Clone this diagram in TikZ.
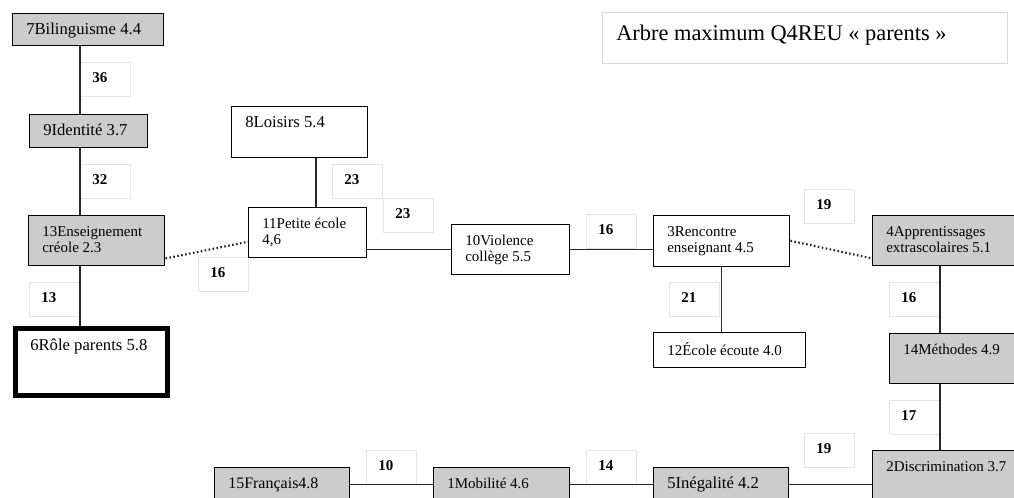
\documentclass[tikz,border=0pt]{standalone}
\usepackage{fontspec}
\setmainfont{Liberation Serif}
\usetikzlibrary{calc}
\definecolor{boxgray}{RGB}{204,204,204}
\definecolor{lablin}{RGB}{228,228,228}
\definecolor{titlin}{RGB}{215,215,215}
\tikzset{
  boxbase/.style={draw=black, line width=1.1pt, inner sep=0pt, anchor=north west},
  graybox/.style={boxbase, fill=boxgray},
  whitebox/.style={boxbase, fill=white},
  thickbox/.style={draw=black, line width=3.75pt, fill=white, inner sep=0pt, anchor=north west},
  labbox/.style={draw=lablin, line width=0.6pt, fill=white, inner sep=0pt, anchor=north west,
     minimum width=37.5pt, minimum height=25.5pt},
  txt/.style={inner sep=0pt, anchor=north west, align=left, font=\fontsize{11.25}{12}\selectfont},
  labtxt/.style={inner sep=0pt, anchor=north west, font=\fontsize{11.25}{12}\selectfont\bfseries},
  conn/.style={draw=black!85, line width=1.1pt},
  dotconn/.style={draw=black!85, line width=1.6pt, dash pattern=on 1.2pt off 1.8pt},
}
\newcommand\bigtxt{\fontsize{12.5}{12}\selectfont}
\newcommand\bxnode[7]{%
  \node[#2, minimum width=#5*0.75pt, minimum height=#6*0.75pt] (#1) at (#3,#4) {};
  \node[txt] at ($(#1.north west)+(14,10)$) {\strut #7};
}
\newcommand\lbnode[4]{%
  \node[labbox] (#1) at (#2,#3) {};
  \node[labtxt] at ($(#1.north west)+(12,9)$) {\strut #4};
}
\begin{document}
\begin{tikzpicture}[x=0.75pt,y=-0.75pt]
\useasboundingbox (0,0) rectangle (1014,497);
\clip (0,0) rectangle (1014,497);
\fill[white] (0,0) rectangle (1014,497);
% title
\node[draw=titlin, line width=0.6pt, fill=white, inner sep=0pt, anchor=north west,
  minimum width=405*0.75pt, minimum height=51*0.75pt] (title) at (602,12) {};
\node[inner sep=0pt, anchor=base west, font=\fontsize{16.8}{18}\selectfont] at ($(title.north west)+(14,28)$) {Arbre maximum Q4REU « parents »};
% labels
\lbnode{l36}{80}{62}{36}
\lbnode{l32}{80}{164}{32}
\lbnode{l13}{29}{282}{13}
\lbnode{l16a}{198}{257}{16}
\lbnode{l23a}{332}{164}{23}
\lbnode{l23b}{383}{198}{23}
\lbnode{l16b}{586}{214}{16}
\lbnode{l19a}{804}{189}{19}
\lbnode{l21}{669}{282}{21}
\lbnode{l16c}{889}{282}{16}
\lbnode{l17}{889}{400}{17}
\lbnode{l19b}{804}{433}{19}
\lbnode{l10}{366}{450}{10}
\lbnode{l14}{586}{450}{14}
% boxes
\bxnode{bil}{graybox}{12}{13}{151}{32}{\bigtxt 7Bilinguisme 4.4}
\bxnode{ide}{graybox}{29}{114}{118}{33}{\bigtxt 9Identité 3.7}
\bxnode{ens}{graybox}{28}{215}{136}{50}{13Enseignement\\créole 2.3}
\node[thickbox, minimum width=152*0.75pt, minimum height=67*0.75pt] (rol) at (12.5,325.5) {};
\node[txt] at ($(rol.north west)+(17.5,13)$) {\strut\bigtxt 6Rôle parents 5.8};
\bxnode{loi}{whitebox}{231}{106}{136}{51}{\bigtxt 8Loisirs 5.4}
\bxnode{pet}{whitebox}{248}{207}{118}{50}{11Petite école\\4,6}
\bxnode{vio}{whitebox}{451}{224}{118}{50}{10Violence\\collège 5.5}
\bxnode{ren}{whitebox}{653}{215}{136}{51}{3Rencontre\\enseignant 4.5}
\bxnode{app}{graybox}{872}{215}{160}{50}{4Apprentissages\\extrascolaires 5.1}
\bxnode{eco}{whitebox}{653}{332}{152}{35}{12École écoute 4.0}
\bxnode{met}{graybox}{889}{333}{140}{50}{14Méthodes 4.9}
\bxnode{dis}{graybox}{872}{450}{160}{68}{2Discrimination 3.7}
\bxnode{ine}{graybox}{653}{467}{135}{34}{\bigtxt 5Inégalité 4.2}
\bxnode{mob}{graybox}{433}{467}{136}{34}{1Mobilité 4.6}
\bxnode{fra}{graybox}{214}{467}{135}{34}{\fontsize{12}{12}\selectfont 15Français4.8}
% connectors
\coordinate (cl) at (316,0);
\draw[conn] (l36.west |- bil.south) -- (l36.west |- ide.north);
\draw[conn] (l32.west |- ide.south) -- (l32.west |- ens.north);
\draw[conn] (l32.west |- ens.south) -- (l32.west |- rol.north);
\draw[conn] (cl |- loi.south) -- (cl |- pet.north);
\draw[conn] (pet.east |- vio.west) -- (vio.west);
\draw[conn] (vio.east) -- (ren.west |- vio.east);
\draw[conn] (ren.south) -- (ren.south |- eco.north);
\draw[conn] (l16c.east |- app.south) -- (l16c.east |- met.north);
\draw[conn] (l17.east |- met.south) -- (l17.east |- dis.north);
\draw[conn] (fra.east) -- (mob.west);
\draw[conn] (mob.east) -- (ine.west);
\draw[conn] (ine.east) -- (dis.west |- ine.east);
\draw[dotconn] ($(ens.south east)+(0,-8)$) -- ($(pet.west)+(0,9)$);
\draw[dotconn] ($(ren.east)+(0,-0.5)$) -- ($(app.south west)+(0,-8)$);
\end{tikzpicture}
\end{document}
